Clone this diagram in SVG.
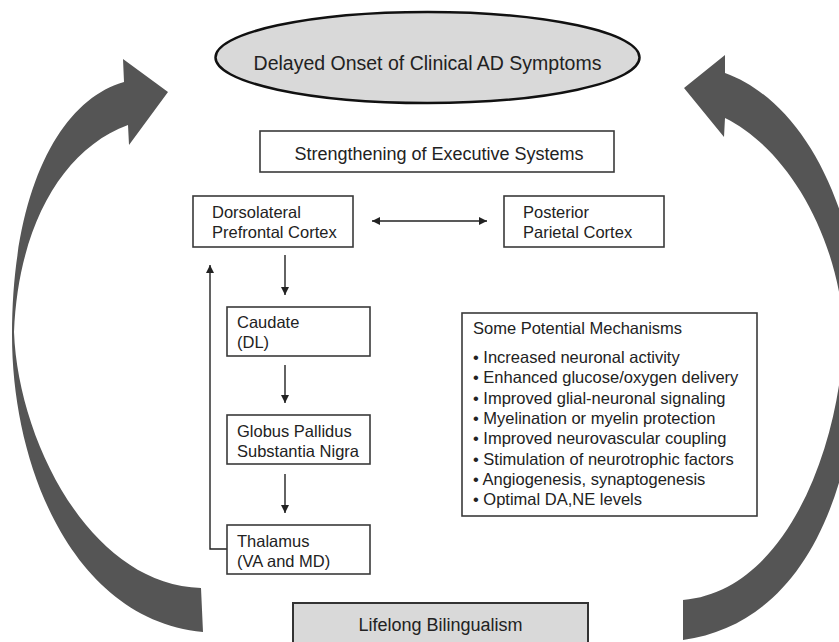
<svg xmlns="http://www.w3.org/2000/svg" width="839" height="642" viewBox="0 0 839 642">
<defs>
<style>
text{font-family:"Liberation Sans",Arial,sans-serif;fill:#222;font-size:16.5px}
text.t195{font-size:19.5px}
text.t18{font-size:18px}
.box{fill:#fff;stroke:#3a3a3a;stroke-width:1.6}
.gray{fill:#d9d9d9;stroke:#333;stroke-width:2}
.big{fill:#555}
.con{fill:none;stroke:#222;stroke-width:1.4}
</style>
<marker id="ah" viewBox="0 0 10 10" refX="10" refY="5" markerWidth="9" markerHeight="8" markerUnits="userSpaceOnUse" orient="auto-start-reverse">
<path d="M0,0 L10,5 L0,10 Z" fill="#222"/>
</marker>
</defs>
<rect width="839" height="642" fill="#fff"/>

<g id="big-arrows">
<path class="big" d="M124,82 L123,59 L168,92 L129,145 L128,125 C60,150 18,230 14,332 C18,440 90,585 201,588 L203,632 C75,620 12,470 12,335 C12,190 60,100 124,82 Z"/>
<path class="big" d="M725,73 L725,55 L684,88 L724,137 L725,118 C780,145 832,220 843,318 C848,410 800,590 683,600 L683,640 C790,625 855,520 862,330 C855,200 800,100 725,73 Z"/>
</g>

<g id="connectors">
<line class="con" x1="372" y1="221" x2="487" y2="221" marker-start="url(#ah)" marker-end="url(#ah)"/>
<line class="con" x1="285" y1="255" x2="285" y2="295" marker-end="url(#ah)"/>
<line class="con" x1="285" y1="365" x2="285" y2="403" marker-end="url(#ah)"/>
<line class="con" x1="285" y1="474" x2="285" y2="513" marker-end="url(#ah)"/>
<polyline class="con" points="227,549 210,549 210,265" marker-end="url(#ah)"/>
</g>

<g id="delayed-onset">
<ellipse cx="427.5" cy="57.5" rx="212" ry="45.5" fill="#d9d9d9" stroke="#111" stroke-width="2.5"/>
<text class="t195" x="427.5" y="70" text-anchor="middle">Delayed Onset of Clinical AD Symptoms</text>
</g>

<g id="strengthening">
<rect class="box" x="260" y="131" width="354" height="41"/>
<text class="t18" x="439" y="160" text-anchor="middle">Strengthening of Executive Systems</text>
</g>

<g id="dlpfc">
<rect class="box" x="193" y="196" width="160" height="51"/>
<text x="212" y="218">Dorsolateral</text>
<text x="212" y="238">Prefrontal Cortex</text>
</g>

<g id="ppc">
<rect class="box" x="504" y="196" width="160" height="51"/>
<text x="523" y="218">Posterior</text>
<text x="523" y="238">Parietal Cortex</text>
</g>

<g id="caudate">
<rect class="box" x="227" y="307" width="143" height="49"/>
<text x="237" y="328">Caudate</text>
<text x="237" y="348">(DL)</text>
</g>

<g id="globus">
<rect class="box" x="227" y="415" width="143" height="49"/>
<text x="237" y="437">Globus Pallidus</text>
<text x="237" y="457">Substantia Nigra</text>
</g>

<g id="thalamus">
<rect class="box" x="227" y="525" width="143" height="49"/>
<text x="237" y="547">Thalamus</text>
<text x="237" y="567">(VA and MD)</text>
</g>

<g id="mechanisms">
<rect class="box" x="462" y="313" width="295" height="203"/>
<text x="473" y="334">Some Potential Mechanisms</text>
<text x="473" y="363">• Increased neuronal activity</text>
<text x="473" y="383.3">• Enhanced glucose/oxygen delivery</text>
<text x="473" y="403.6">• Improved glial-neuronal signaling</text>
<text x="473" y="423.9">• Myelination or myelin protection</text>
<text x="473" y="444.2">• Improved neurovascular coupling</text>
<text x="473" y="464.5">• Stimulation of neurotrophic factors</text>
<text x="473" y="484.8">• Angiogenesis, synaptogenesis</text>
<text x="473" y="505.1">• Optimal DA,NE levels</text>
</g>

<g id="bilingualism">
<rect class="gray" x="293" y="603" width="295" height="50"/>
<text class="t18" x="440.5" y="631" text-anchor="middle">Lifelong Bilingualism</text>
</g>
</svg>
